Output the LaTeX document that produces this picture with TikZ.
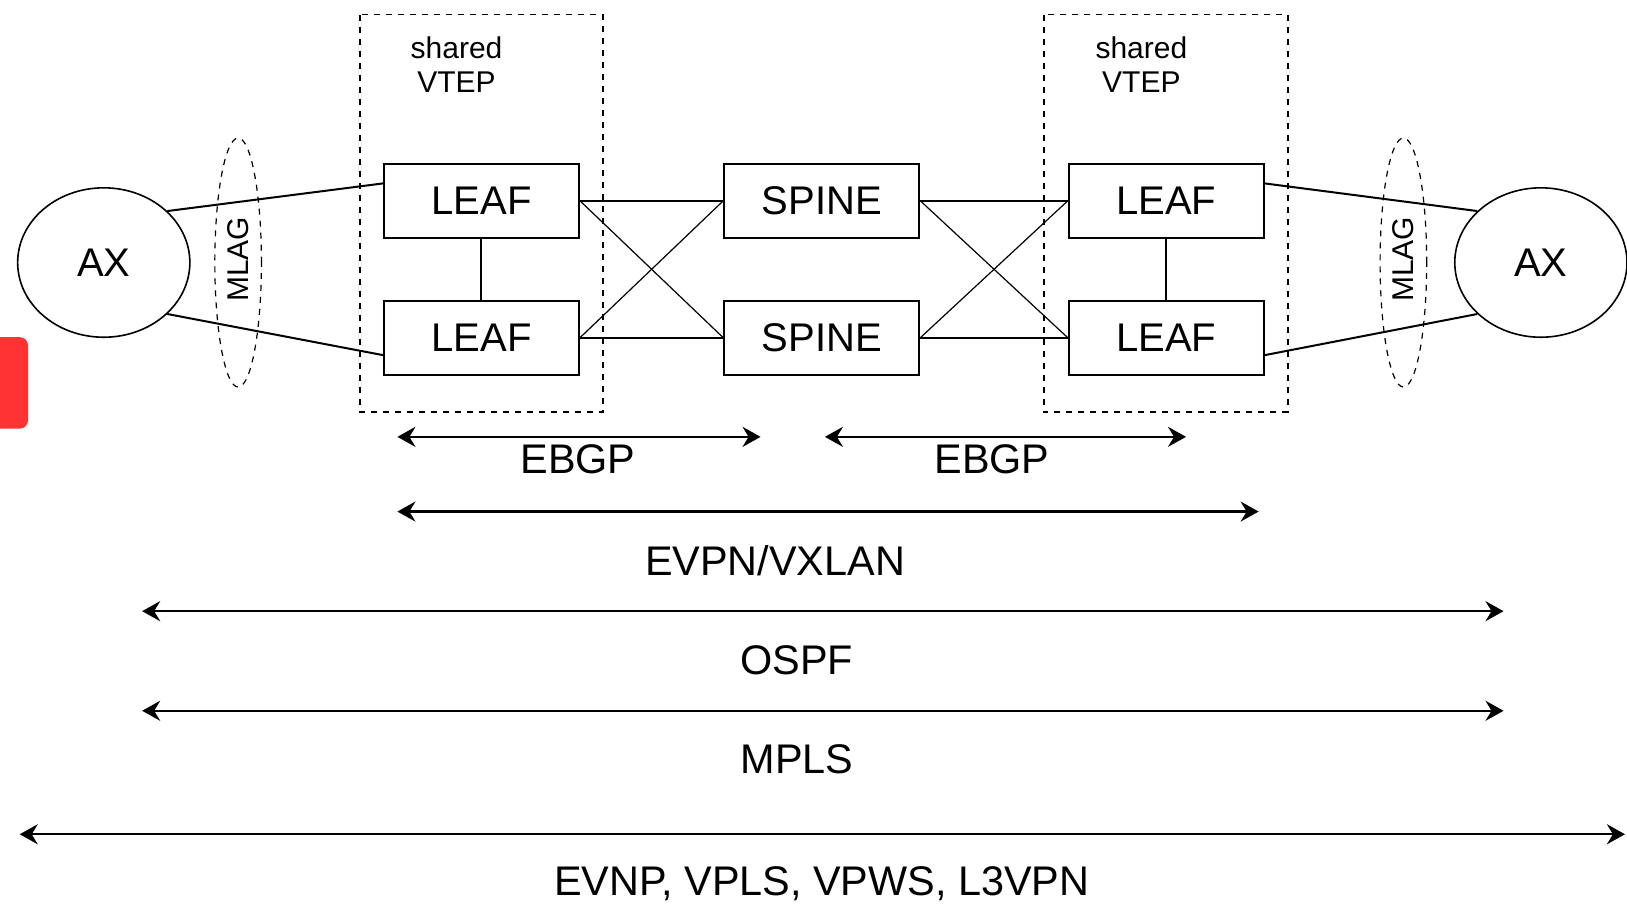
\documentclass[tikz,border=0pt]{standalone}
\usepackage{fontspec}
\setmainfont{Liberation Sans}
\usetikzlibrary{shapes.geometric,arrows.meta}

\tikzset{
  box/.style={draw, line width=1pt, minimum width=97.5pt, minimum height=36.8pt, font=\fontsize{20}{24}\selectfont},
  host/.style={draw, ellipse, line width=0.8pt, minimum width=86.1pt, minimum height=74.7pt, font=\fontsize{20}{24}\selectfont},
  lag/.style={draw, ellipse, dashed, line width=0.6pt, minimum width=23.3pt, minimum height=124.5pt, inner sep=0pt},
  link/.style={line width=1pt},
  crosslink/.style={line width=0.6pt},
  span/.style={line width=1.1pt, {Stealth[length=9pt,width=10pt,inset=3pt]}-{Stealth[length=9pt,width=10pt,inset=3pt]}},
  lbl/.style={font=\fontsize{20.7}{24}\selectfont},
  small/.style={font=\fontsize{15}{17}\selectfont, align=center}
}

\begin{document}
\begin{tikzpicture}[x=0.5188pt, y=-0.5188pt]
        \useasboundingbox (0,0) rectangle (1568,871);

        % Red tab at the left edge
        \fill[red!80!white, rounded corners=4pt] (-20,325) rectangle (27,413);

        % Shared VTEP frames
        \draw[dashed, line width=0.8pt] (347,14) rectangle (581,397);
        \draw[dashed, line width=0.8pt] (1006,14) rectangle (1241,397);
        \node[small] (vtepL) at (440,62) {shared\\VTEP};
        \node[small] (vtepR) at (1100,62) {shared\\VTEP};

        % Hosts and MLAG rings
        \node[host] (axL) at (100,253) {AX};
        \node[host] (axR) at (1485,253) {AX};
        \node[lag] (mlagL) at (229.5,253) {};
        \node[lag] (mlagR) at (1352.5,253) {};
        \node[small, rotate=90] (mlagLtxt) at (229.5,250) {MLAG};
        \node[small, rotate=90] (mlagRtxt) at (1352.5,250) {MLAG};

        % Leaf and spine switches
        \node[box] (leafTL) at (464,193.5) {LEAF};
        \node[box] (leafBL) at (464,325.5) {LEAF};
        \node[box] (spineT) at (792,193.5) {SPINE};
        \node[box] (spineB) at (792,325.5) {SPINE};
        \node[box] (leafTR) at (1124,193.5) {LEAF};
        \node[box] (leafBR) at (1124,325.5) {LEAF};

        % Links
        \draw[link] (axL.39) -- (leafTL.170);
        \draw[link] (axL.-39) -- (leafBL.190);
        \draw[link] (leafTR.10) -- (axR.141);
        \draw[link] (leafBR.-10) -- (axR.-141);
        \draw[link] (leafTL) -- (leafBL);
        \draw[link] (leafTR) -- (leafBR);
        \draw[link] (leafTL.east) -- (spineT.west);
        \draw[link] (leafBL.east) -- (spineB.west);
        \draw[link] (spineT.east) -- (leafTR.west);
        \draw[link] (spineB.east) -- (leafBR.west);
        \draw[crosslink] (leafTL.east) -- (spineB.west);
        \draw[crosslink] (leafBL.east) -- (spineT.west);
        \draw[crosslink] (spineT.east) -- (leafBR.west);
        \draw[crosslink] (spineB.east) -- (leafTR.west);

        % Protocol spans
        \coordinate (ebgpAl) at (383,421);
        \coordinate (ebgpAr) at (733,421);
        \coordinate (ebgpBl) at (795,421);
        \coordinate (ebgpBr) at (1143,421);
        \coordinate (evpnl) at (383,493);
        \coordinate (evpnr) at (1213,493);
        \coordinate (ospfl) at (137,589);
        \coordinate (ospfr) at (1449,589);
        \coordinate (mplsl) at (137,685);
        \coordinate (mplsr) at (1449,685);
        \coordinate (svcl) at (19,804);
        \coordinate (svcr) at (1566,804);

        \draw[span] (ebgpAl) -- (ebgpAr);
        \draw[span] (ebgpBl) -- (ebgpBr);
        \draw[span] (evpnl) -- (evpnr);
        \draw[span] (ospfl) -- (ospfr);
        \draw[span] (mplsl) -- (mplsr);
        \draw[span] (svcl) -- (svcr);

        \node[lbl] (ebgpA) at (557,443) {EBGP};
        \node[lbl] (ebgpB) at (956,443) {EBGP};
        \node[lbl] (evpn) at (747,540) {EVPN/VXLAN};
        \node[lbl] (ospf) at (768,636) {OSPF};
        \node[lbl] (mpls) at (768,732) {MPLS};
        \node[lbl] (svc) at (792,852) {EVNP, VPLS, VPWS, L3VPN};
    \end{tikzpicture}
\end{document}
